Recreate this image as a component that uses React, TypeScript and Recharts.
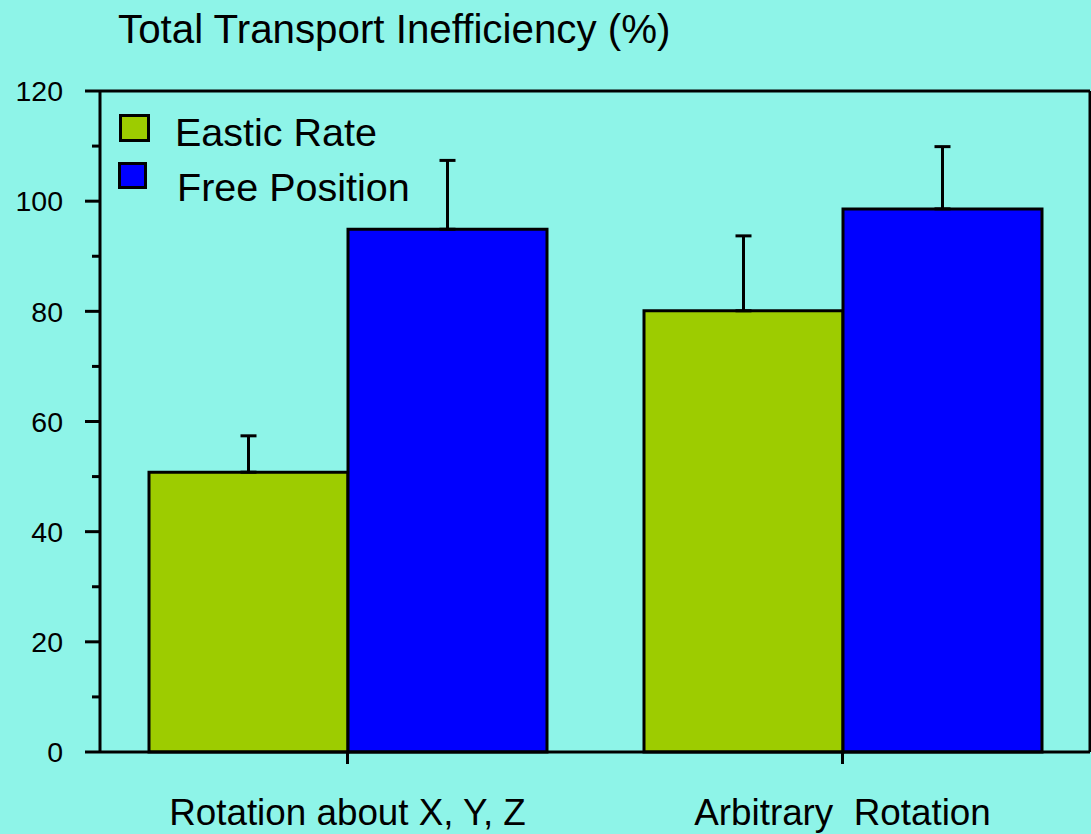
import React from 'react';
import {
  BarChart,
  Bar,
  XAxis,
  YAxis,
  ErrorBar,
  Legend,
} from 'recharts';

// categories and series
const categories = ['Rotation about X, Y, Z', 'Arbitrary  Rotation'];
const elasticRate = [50.8, 80.1];
const elasticErr = [6.6, 13.6];
const freePosition = [94.9, 98.6];
const freeErr = [12.5, 11.3];
const yTicks = [0, 10, 20, 30, 40, 50, 60, 70, 80, 90, 100, 110, 120];

const BG = '#8ef4e8';
const GREEN = '#9dcc00';
const BLUE = '#0000ff';
const FONT = '"Liberation Sans", Arial, sans-serif';

const data = categories.map((name, i) => ({
  name,
  elastic: elasticRate[i],
  elasticErr: [0, elasticErr[i]],
  free: freePosition[i],
  freeErr: [0, freeErr[i]],
}));

// y ticks: major every 20 with label, minor in between
const YTick = (props: any) => {
  const { x, y, payload } = props;
  const major = payload.value % 20 === 0;
  return (
    <g>
      <line x1={x - (major ? 15 : 8)} x2={x} y1={y} y2={y} stroke="#000" strokeWidth={3} />
      {major && (
        <text x={x - 37} y={y} dy="0.36em" textAnchor="end" fontSize={28.5} fontFamily={FONT} fill="#000">
          {payload.value}
        </text>
      )}
    </g>
  );
};

const XTick = (props: any) => {
  const { x, y, payload } = props;
  return (
    <text x={x} y={y + 61} textAnchor="middle" fontSize={36.8} fontFamily={FONT} fill="#000" style={{ whiteSpace: 'pre' }}>
      {payload.value}
    </text>
  );
};

const LegendBox = ({ payload }: any) => {
  if (!payload) return null;
  const rows = [
    { sq: { left: 1, top: 2, width: 31, height: 28 }, txt: { left: 57, top: 1 } },
    { sq: { left: 0, top: 50, width: 29, height: 27 }, txt: { left: 59, top: 56 } },
  ];
  return (
    <div style={{ position: 'relative', width: 320, height: 100 }}>
      {payload.map((p: any, i: number) => (
        <React.Fragment key={p.value}>
          <div
            style={{
              position: 'absolute',
              ...rows[i].sq,
              boxSizing: 'border-box',
              background: p.color,
              border: '3px solid #000',
            }}
          />
          <div
            style={{
              position: 'absolute',
              ...rows[i].txt,
              fontFamily: FONT,
              fontSize: 39.5,
              lineHeight: 1,
              color: '#000',
              whiteSpace: 'nowrap',
            }}
          >
            {p.value}
          </div>
        </React.Fragment>
      ))}
    </div>
  );
};

export default function App() {
  return (
    <div style={{ position: 'absolute', left: 0, top: 0, width: 1091, height: 834, background: BG, overflow: 'hidden' }}>
      <div
        style={{
          position: 'absolute',
          left: 118,
          top: 10,
          fontFamily: FONT,
          fontSize: 40.3,
          lineHeight: 1,
          color: '#000',
          whiteSpace: 'nowrap',
        }}
      >
        Total Transport Inefficiency (%)
      </div>
      <BarChart
        width={1091}
        height={834}
        data={data}
        margin={{ top: 90, right: 0, left: 0, bottom: 0 }}
        barCategoryGap={49}
        barGap={0}
      >
        <XAxis
          dataKey="name"
          height={82}
          tickSize={12}
          tickMargin={0}
          tick={<XTick />}
          axisLine={{ stroke: '#000', strokeWidth: 3 }}
          tickLine={{ stroke: '#000', strokeWidth: 3 }}
        />
        <XAxis
          xAxisId="top"
          dataKey="name"
          orientation="top"
          height={1}
          tick={false}
          tickLine={false}
          axisLine={{ stroke: '#000', strokeWidth: 3 }}
        />
        <YAxis
          width={100}
          domain={[0, 120]}
          ticks={yTicks}
          interval={0}
          tickSize={0}
          tickMargin={0}
          tickLine={false}
          tick={<YTick />}
          axisLine={{ stroke: '#000', strokeWidth: 3 }}
        />
        <YAxis
          yAxisId="right"
          orientation="right"
          width={1}
          domain={[0, 120]}
          tick={false}
          tickLine={false}
          axisLine={{ stroke: '#000', strokeWidth: 3 }}
        />
        <Legend
          layout="vertical"
          align="center"
          verticalAlign="middle"
          content={<LegendBox />}
          wrapperStyle={{ top: 112, left: 118, width: 320, height: 100 }}
        />
        <Bar dataKey="elastic" name="Eastic Rate" fill={GREEN} stroke="#000" strokeWidth={3} isAnimationActive={false}>
          <ErrorBar dataKey="elasticErr" direction="y" width={8} stroke="#000" strokeWidth={3} />
        </Bar>
        <Bar dataKey="free" name="Free Position" fill={BLUE} stroke="#000" strokeWidth={3} isAnimationActive={false}>
          <ErrorBar dataKey="freeErr" direction="y" width={8} stroke="#000" strokeWidth={3} />
        </Bar>
      </BarChart>
    </div>
  );
}
